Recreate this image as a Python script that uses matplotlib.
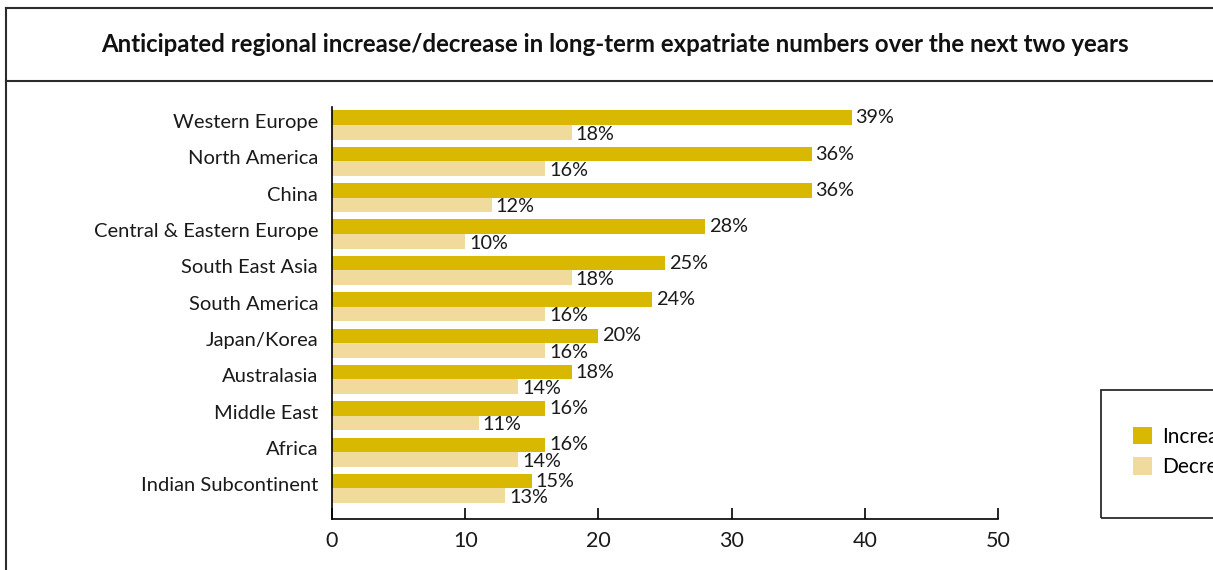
import matplotlib.pyplot as plt
from matplotlib.patches import Rectangle
from matplotlib.lines import Line2D
from matplotlib.transforms import ScaledTranslation
import numpy as np

plt.rcParams['font.family'] = ['Lato', 'DejaVu Sans']

regions = ['Western Europe', 'North America', 'China', 'Central & Eastern Europe',
           'South East Asia', 'South America', 'Japan/Korea', 'Australasia',
           'Middle East', 'Africa', 'Indian Subcontinent']
increase = [39, 36, 36, 28, 25, 24, 20, 18, 16, 16, 15]
decrease = [18, 16, 12, 10, 18, 16, 16, 14, 11, 14, 13]
x_ticks = [0, 10, 20, 30, 40, 50]

inc_color = '#D8B800'
dec_color = '#F0DA9C'
edge = '#2b2b2b'

fig = plt.figure(figsize=(12.13, 5.70), dpi=100)
ax = fig.add_axes([0.2737, 0.0895, 0.5491, 0.7228])

y = np.arange(len(regions))
h = 0.4
ax.barh(y - h / 2, increase, height=h, color=inc_color, label='Increase')
ax.barh(y + h / 2, decrease, height=h, color=dec_color, label='Decrease')

for i in range(len(regions)):
    ax.text(increase[i] + 0.3, y[i] - h / 2, '%d%%' % increase[i],
            ha='left', va='center', fontsize=14.3, color='#1a1a1a')
    ax.text(decrease[i] + 0.3, y[i] + h / 2 + 0.05, '%d%%' % decrease[i],
            ha='left', va='center', fontsize=14.3, color='#1a1a1a')

ax.set_xlim(0, 50)
ax.set_ylim(10.84, -0.495)
ax.set_xticks(x_ticks)
ax.set_yticks(y)
ax.set_yticklabels(regions)
ax.tick_params(axis='y', length=0, pad=10, labelsize=14.5, labelcolor='#1a1a1a')
ax.tick_params(axis='x', direction='in', length=8, width=1.2, pad=9,
               labelsize=15.5, labelcolor='#1a1a1a')
# region names sit a little above the middle of their pair of bars
lift = ScaledTranslation(0, 4 / 100, fig.dpi_scale_trans)
for lab in ax.get_yticklabels():
    lab.set_transform(lab.get_transform() + lift)
for s in ['top', 'right']:
    ax.spines[s].set_visible(False)
for s in ['left', 'bottom']:
    ax.spines[s].set_linewidth(1.2)
    ax.spines[s].set_color('black')

# frame around the title and the left edge
fig.add_artist(Line2D([6 / 1213, 1], [1 - 8 / 570, 1 - 8 / 570],
                      transform=fig.transFigure, color=edge, lw=1.5))
fig.add_artist(Line2D([6 / 1213, 1], [1 - 81 / 570, 1 - 81 / 570],
                      transform=fig.transFigure, color=edge, lw=1.5))
fig.add_artist(Line2D([6 / 1213, 6 / 1213], [0, 1 - 8 / 570],
                      transform=fig.transFigure, color=edge, lw=1.5))

fig.text(0.507, 1 - 44 / 570,
         'Anticipated regional increase/decrease in long-term expatriate numbers over the next two years',
         ha='center', va='center', fontsize=17.3, fontweight='bold', color='#111111')

# legend box
fig.add_artist(Rectangle((1101 / 1213, 1 - 518 / 570), 0.2, 128 / 570,
                         transform=fig.transFigure, fill=False, edgecolor=edge, lw=1.3))
leg = fig.legend(loc='upper left', bbox_to_anchor=(1114 / 1213, 1 - 408 / 570),
                 frameon=False, fontsize=15, handlelength=0.9, handleheight=0.9,
                 handletextpad=0.5, labelspacing=0.5)

fig.savefig('out.png', dpi=100)
